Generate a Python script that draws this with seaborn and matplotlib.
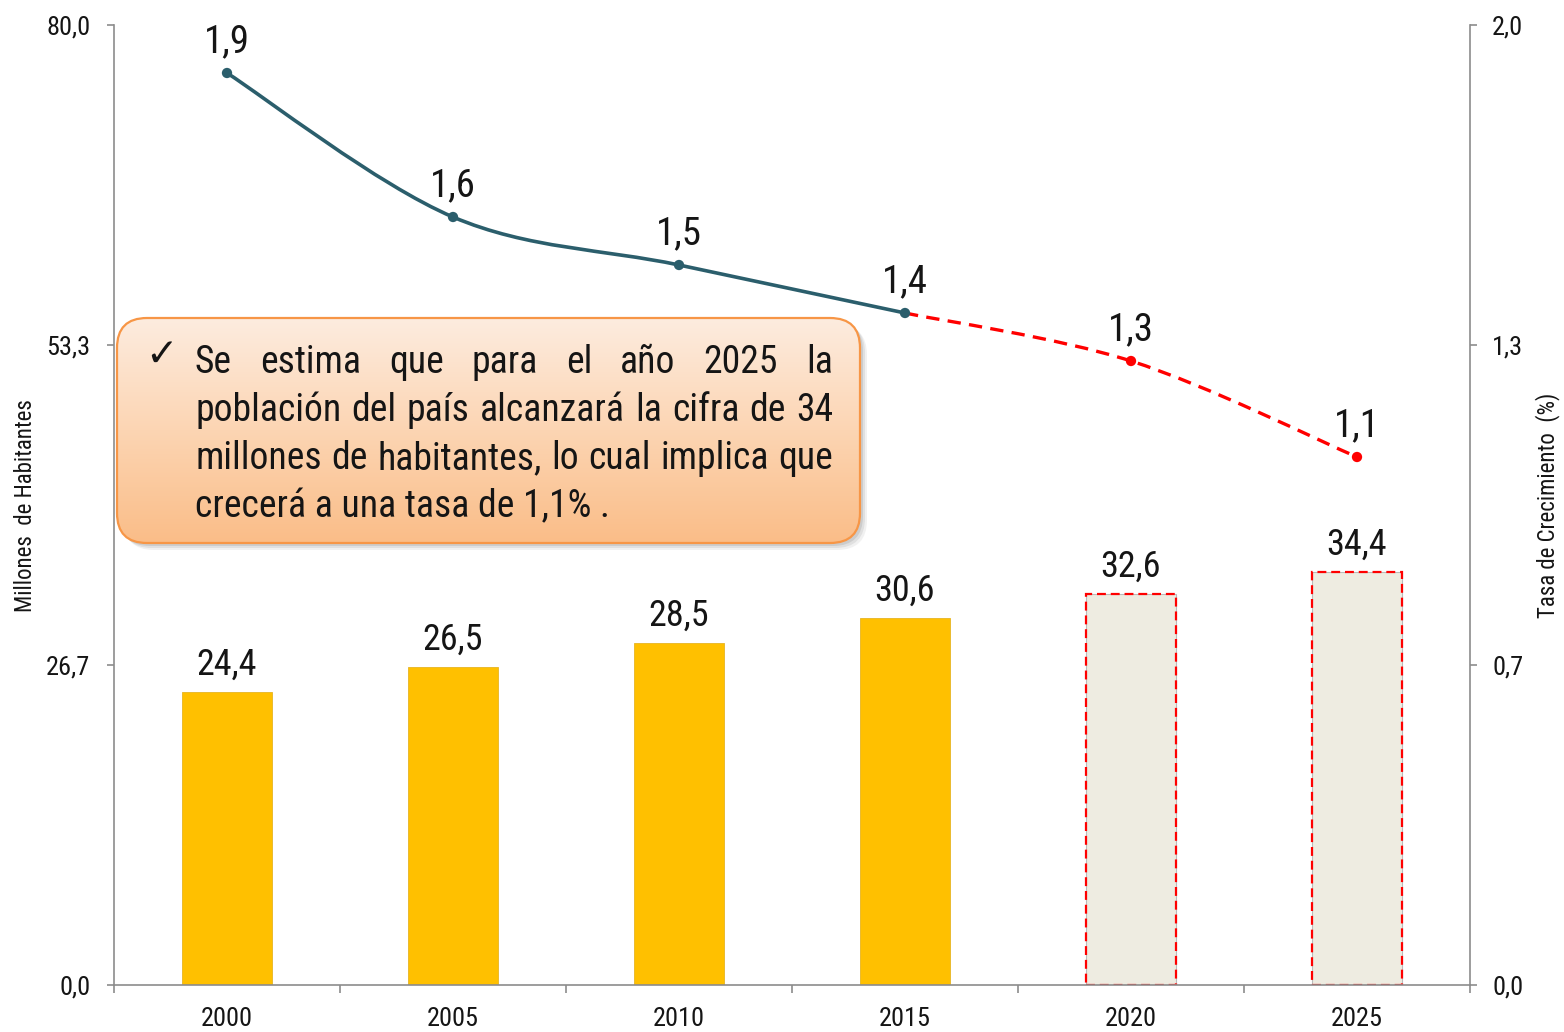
import numpy as np
import pandas as pd
import matplotlib
matplotlib.use('Agg')
import matplotlib.pyplot as plt
import seaborn as sns
from matplotlib.path import Path
from matplotlib.patches import PathPatch, FancyBboxPatch, Rectangle
from matplotlib.colors import LinearSegmentedColormap

# ---------------- data ----------------
years = ['2000', '2005', '2010', '2015', '2020', '2025']
population = [24.4, 26.5, 28.5, 30.6, 32.6, 34.4]
growth = [1.9, 1.6, 1.5, 1.4, 1.3, 1.1]
projected = [False, False, False, False, True, True]
left_ticks = [0, 80 / 3, 160 / 3, 80]
left_labels = ['0,0', '26,7', '53,3', '80,0']
right_ticks = [0, 2 / 3, 4 / 3, 2]
right_labels = ['0,0', '0,7', '1,3', '2,0']
left_title = 'Millones  de Habitantes'
right_title = 'Tasa de Crecimiento  (%)'
note_lines = ['Se estima que para el año 2025 la',
              'población del país alcanzará la cifra de 34',
              'millones de habitantes, lo cual implica que',
              'crecerá a una tasa de 1,1% .']

# ---------------- style ----------------
sns.set_theme(style='white')
FONT = ['Roboto Condensed', 'DejaVu Sans']
plt.rcParams['font.family'] = FONT
GOLD = '#FFC000'
BEIGE = '#EEECE1'
TEAL = '#2B5E6C'
RED = '#FF0000'
GREY = '#8C8C8C'
INK = '#151515'

W, H = 1564, 1032
fig = plt.figure(figsize=(W / 100, H / 100), dpi=100)
fig.patch.set_facecolor('white')
ax = fig.add_axes([114 / W, 47 / H, 1356 / W, 960 / H])

df = pd.DataFrame({'year': years, 'pop': population})
palette = {y: (BEIGE if p else GOLD) for y, p in zip(years, projected)}
sns.barplot(data=df, x='year', y='pop', hue='year', palette=palette,
            width=0.4, legend=False, ax=ax, saturation=1, order=years)

for p in list(ax.patches):
    i = int(round(p.get_x() + p.get_width() / 2))
    if projected[i]:
        p.set_edgecolor('#BBBBBB')
        p.set_linewidth(0.8)
        r = Rectangle((p.get_x(), p.get_y()), p.get_width(), p.get_height(),
                      fill=False, edgecolor=RED, linewidth=1.6,
                      linestyle=(0, (4, 2.2)), zorder=p.get_zorder() + 0.1)
        ax.add_patch(r)
    else:
        p.set_edgecolor('#E6B422')
        p.set_linewidth(0.6)

for i, v in enumerate(population):
    ax.annotate(f'{v:.1f}'.replace('.', ','), (i, v), xytext=(0, 17),
                textcoords='offset pixels', ha='center', va='baseline',
                fontsize=26, color=INK)

ax.set_xlim(-0.5, len(years) - 0.5)
ax.set_ylim(0, 80)
ax.set_yticks(left_ticks)
ax.set_yticklabels(left_labels)
ax.set_xticks(np.arange(-0.5, len(years), 1))
ax.set_xticklabels([''] * (len(years) + 1))
ax.set_xticks(np.arange(len(years)), minor=True)
ax.set_xticklabels(years, minor=True)
ax.tick_params(axis='x', which='major', direction='out', length=6, width=1.2,
               color=GREY, bottom=True)
ax.tick_params(axis='x', which='minor', length=0, pad=16, labelsize=19,
               labelcolor=INK, bottom=True)
ax.tick_params(axis='y', direction='out', length=5, width=1.2, color=GREY,
               pad=12, labelsize=19, labelcolor=INK, left=True)
ax.set_xlabel('')
ax.set_ylabel(left_title, fontsize=16.5, color=INK)
ax.yaxis.set_label_coords(-0.0567, 0.499)
for s in ['top', 'right']:
    ax.spines[s].set_visible(False)
for s in ['left', 'bottom']:
    ax.spines[s].set_color(GREY)
    ax.spines[s].set_linewidth(1.2)

# ---------------- growth line ----------------
ax2 = ax.twinx()
ax2.set_ylim(0, 2)
ax2.set_xlim(-0.5, len(years) - 0.5)


def smooth_path(xs, ys):
    verts = [(xs[0], ys[0])]
    codes = [Path.MOVETO]
    n = len(xs)
    for i in range(n - 1):
        a = i - 1 if i > 0 else i
        b = i + 2 if i + 2 < n else i + 1
        c1 = (xs[i] + (xs[i + 1] - xs[a]) / 6, ys[i] + (ys[i + 1] - ys[a]) / 6)
        c2 = (xs[i + 1] - (xs[b] - xs[i]) / 6, ys[i + 1] - (ys[b] - ys[i]) / 6)
        verts += [c1, c2, (xs[i + 1], ys[i + 1])]
        codes += [Path.CURVE4] * 3
    return Path(verts, codes)


xpos = list(range(len(years)))
hist_idx = [i for i in xpos if not projected[i]]
proj_idx = [hist_idx[-1]] + [i for i in xpos if projected[i]]
ax2.add_patch(PathPatch(smooth_path([xpos[i] for i in hist_idx], [growth[i] for i in hist_idx]),
                        fill=False, edgecolor=TEAL, linewidth=2.6, capstyle='round', zorder=3))
ax2.add_patch(PathPatch(smooth_path([xpos[i] for i in proj_idx], [growth[i] for i in proj_idx]),
                        fill=False, edgecolor=RED, linewidth=2.4, linestyle=(0, (4, 2.5)), zorder=3))

mk = pd.DataFrame({'x': xpos, 'g': growth,
                   'kind': ['proj' if p else 'hist' for p in projected]})
sns.scatterplot(data=mk, x='x', y='g', hue='kind', palette={'hist': TEAL, 'proj': RED},
                s=55, edgecolor='none', legend=False, ax=ax2, zorder=4)
for i, g in enumerate(growth):
    ax2.annotate(f'{g:.1f}'.replace('.', ','), (i, g), xytext=(0, 21),
                 textcoords='offset pixels', ha='center', va='baseline',
                 fontsize=28, color=INK)

ax2.set_xlim(-0.5, len(years) - 0.5)
ax2.set_xlabel('')
ax2.set_yticks(right_ticks)
ax2.set_yticklabels(right_labels)
ax2.tick_params(axis='y', direction='out', length=5, width=1.2, color=GREY,
                pad=11, labelsize=19, labelcolor=INK, right=True)
ax2.set_ylabel(right_title, fontsize=16.5, color=INK, rotation=90)
ax2.yaxis.set_label_coords(1.048, 0.4995)
for s in ['top', 'left', 'bottom']:
    ax2.spines[s].set_visible(False)
ax2.spines['right'].set_color(GREY)
ax2.spines['right'].set_linewidth(1.2)
ax2.grid(False)
ax.grid(False)

# ---------------- note box (pixel overlay) ----------------
ov = fig.add_axes([0, 0, 1, 1], zorder=10)
ov.axis('off')
bx0, by0, bw, bh = 117, 318, 743, 225
for dx, al in [(7, 0.10), (5, 0.15), (3, 0.2)]:
    ov.add_patch(FancyBboxPatch((bx0 + dx, by0 + dx), bw, bh,
                                boxstyle='round,pad=0,rounding_size=30',
                                facecolor='#7F7F7F', edgecolor='none', alpha=al, zorder=1))
box = FancyBboxPatch((bx0, by0), bw, bh, boxstyle='round,pad=0,rounding_size=30',
                     facecolor='none', edgecolor='#F79646', linewidth=1.6, zorder=3)
ov.add_patch(box)
grad = np.linspace(0, 1, 256).reshape(-1, 1)
cmap = LinearSegmentedColormap.from_list('peach', ['#FDECDF', '#FCD5B3', '#FABD88'])
im = ov.imshow(grad, extent=(bx0, bx0 + bw, by0 + bh, by0), origin='upper',
               cmap=cmap, aspect='auto', zorder=2)
clip = FancyBboxPatch((bx0, by0), bw, bh, boxstyle='round,pad=0,rounding_size=30',
                      facecolor='none', edgecolor='none', transform=ov.transData)
im.set_clip_path(clip)
ov.set_xlim(0, W)
ov.set_ylim(H, 0)

renderer = fig.canvas.get_renderer()
x_left, x_right = 195, 833
baselines = [373, 421, 469, 517]

# fit the font so the natural width of each justified line fits the column
FS = 30.0
probe = ov.text(0, 0, '', fontsize=FS)
def natural_width(s, fs):
    probe.set_fontsize(fs)
    probe.set_text(s)
    return probe.get_window_extent(renderer).width
maxw = max(natural_width(s, FS) for s in note_lines)
if maxw > (x_right - x_left):
    FS = FS * (x_right - x_left) / maxw * 0.99
probe.remove()

for li, (line, yb) in enumerate(zip(note_lines, baselines)):
    if li < len(note_lines) - 1:
        words = line.split(' ')
        txts = [ov.text(0, yb, w, fontsize=FS, ha='left', va='baseline',
                        color=INK, zorder=5) for w in words]
        widths = [t.get_window_extent(renderer).width for t in txts]
        gap = (x_right - x_left - sum(widths)) / (len(words) - 1)
        x = x_left
        for t, wd in zip(txts, widths):
            t.set_x(x)
            x += wd + gap
    else:
        ov.text(x_left, yb, line, fontsize=FS, ha='left', va='baseline',
                color=INK, zorder=5)
ov.text(161, 366, '✓', fontsize=28, ha='center', va='baseline', color=INK,
        family=['DejaVu Sans'], zorder=5)

fig.savefig('out.png', dpi=100, facecolor='white')
